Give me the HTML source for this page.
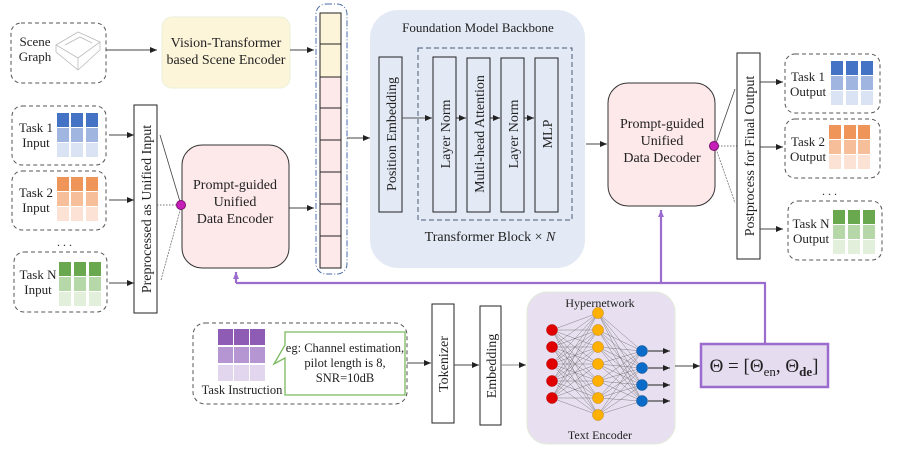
<!DOCTYPE html>
<html><head><meta charset="utf-8"><style>
body{margin:0;background:#fff}
svg{display:block;font-family:"Liberation Serif",serif;}
</style></head><body>
<svg width="897" height="449" viewBox="0 0 897 449" xmlns="http://www.w3.org/2000/svg">
<defs>
<marker id="a" markerWidth="8" markerHeight="8" refX="7" refY="4" orient="auto" markerUnits="userSpaceOnUse"><path d="M0,1 L7,4 L0,7 z" fill="#222"/></marker>
<marker id="p" markerWidth="8" markerHeight="8" refX="7" refY="4" orient="auto" markerUnits="userSpaceOnUse"><path d="M0,1 L7,4 L0,7 z" fill="#9a6ccd"/></marker>
</defs>
<g font-size="13" fill="#222">
<rect x="11" y="23" width="95" height="60" rx="10" fill="none" stroke="#555" stroke-dasharray="4,3"/>
<text x="35" y="46" text-anchor="middle">Scene</text><text x="35" y="61" text-anchor="middle">Graph</text>
<g stroke="#bbb" fill="none" stroke-width="0.8"><path d="M56,45 L78,32 L100,42 L78,58 Z"/><path d="M56,45 L56,52 L78,70 L100,50 L100,42"/><path d="M78,58 L78,70"/><path d="M65,45 L80,37 L92,43"/></g>
<line x1="106" y1="50" x2="157" y2="50" stroke="#444" marker-end="url(#a)"/>
<rect x="162" y="17" width="128" height="71" rx="10" fill="#fdf5da" stroke="#eaf0d8"/>
<text x="226" y="47" text-anchor="middle" font-size="14">Vision-Transformer</text>
<text x="226" y="64" text-anchor="middle" font-size="14">based Scene Encoder</text>
<line x1="290" y1="50" x2="314" y2="50" stroke="#444" marker-end="url(#a)"/>
<rect x="316" y="4" width="31" height="270" rx="10" fill="none" stroke="#4a6aa8" stroke-dasharray="6,2,1,2"/>
<rect x="320" y="13" width="21" height="64" fill="#fdf5da" stroke="#222"/>
<rect x="320" y="77" width="21" height="191" fill="#fde8ea" stroke="#222"/>
<g stroke="#222"><line x1="320" y1="44" x2="341" y2="44"/><line x1="320" y1="108" x2="341" y2="108"/><line x1="320" y1="140" x2="341" y2="140"/><line x1="320" y1="172" x2="341" y2="172"/><line x1="320" y1="204" x2="341" y2="204"/><line x1="320" y1="236" x2="341" y2="236"/></g>
<rect x="12" y="106" width="94" height="59" rx="10" fill="none" stroke="#555" stroke-dasharray="4,3"/>
<text x="36" y="132" text-anchor="middle">Task 1</text><text x="36" y="147" text-anchor="middle">Input</text>
<g><rect x="57" y="113" width="12" height="14" fill="#4472c4"/><rect x="71" y="113" width="12" height="14" fill="#4472c4"/><rect x="86" y="113" width="12" height="14" fill="#4472c4"/>
<rect x="57" y="128" width="12" height="14" fill="#a0b6e0"/><rect x="71" y="128" width="12" height="14" fill="#a0b6e0"/><rect x="86" y="128" width="12" height="14" fill="#a0b6e0"/>
<rect x="57" y="143" width="12" height="14" fill="#dae3f3"/><rect x="71" y="143" width="12" height="14" fill="#dae3f3"/><rect x="86" y="143" width="12" height="14" fill="#dae3f3"/></g>
<rect x="12" y="171" width="94" height="59" rx="10" fill="none" stroke="#555" stroke-dasharray="4,3"/>
<text x="36" y="197" text-anchor="middle">Task 2</text><text x="36" y="212" text-anchor="middle">Input</text>
<g><rect x="57" y="177" width="12" height="14" fill="#f0955a"/><rect x="71" y="177" width="12" height="14" fill="#f0955a"/><rect x="86" y="177" width="12" height="14" fill="#f0955a"/>
<rect x="57" y="192" width="12" height="14" fill="#f6bf9a"/><rect x="71" y="192" width="12" height="14" fill="#f6bf9a"/><rect x="86" y="192" width="12" height="14" fill="#f6bf9a"/>
<rect x="57" y="207" width="12" height="14" fill="#fbe2d4"/><rect x="71" y="207" width="12" height="14" fill="#fbe2d4"/><rect x="86" y="207" width="12" height="14" fill="#fbe2d4"/></g>
<text x="57" y="246" font-size="12">. . .</text>
<rect x="14" y="252" width="93" height="60" rx="10" fill="none" stroke="#555" stroke-dasharray="4,3"/>
<text x="38" y="279" text-anchor="middle">Task N</text><text x="38" y="294" text-anchor="middle">Input</text>
<g><rect x="59" y="262" width="12" height="14" fill="#6aa84f"/><rect x="74" y="262" width="12" height="14" fill="#6aa84f"/><rect x="89" y="262" width="12" height="14" fill="#6aa84f"/>
<rect x="59" y="277" width="12" height="14" fill="#b6d7a8"/><rect x="74" y="277" width="12" height="14" fill="#b6d7a8"/><rect x="89" y="277" width="12" height="14" fill="#b6d7a8"/>
<rect x="59" y="292" width="12" height="14" fill="#e2efda"/><rect x="74" y="292" width="12" height="14" fill="#e2efda"/><rect x="89" y="292" width="12" height="14" fill="#e2efda"/></g>
<line x1="109" y1="135" x2="134" y2="135" stroke="#444" marker-end="url(#a)"/>
<line x1="109" y1="200" x2="134" y2="200" stroke="#444" marker-end="url(#a)"/>
<line x1="109" y1="283" x2="134" y2="283" stroke="#444" marker-end="url(#a)"/>
<rect x="134" y="105" width="23" height="208" fill="#fff" stroke="#222"/>
<text transform="translate(151,209) rotate(-90)" text-anchor="middle" font-size="14">Preprocessed as Unified Input</text>
<line x1="160" y1="135" x2="181" y2="205" stroke="#444" stroke-width="0.8"/>
<line x1="157" y1="205" x2="181" y2="205" stroke="#777" stroke-dasharray="1.5,1.5"/>
<line x1="161" y1="280" x2="181" y2="207" stroke="#777" stroke-width="0.8" stroke-dasharray="2,1"/>
<rect x="182" y="145" width="107" height="123" rx="20" fill="#fde8ea" stroke="#333"/>
<circle cx="181" cy="205" r="4.5" fill="#c61fb8" stroke="#7a1070"/>
<text x="235" y="189" text-anchor="middle" font-size="14">Prompt-guided</text>
<text x="235" y="206" text-anchor="middle" font-size="14">Unified</text>
<text x="235" y="223" text-anchor="middle" font-size="14">Data Encoder</text>
<line x1="289" y1="208" x2="314" y2="208" stroke="#444" marker-end="url(#a)"/>
<line x1="347" y1="138" x2="370" y2="138" stroke="#444" marker-end="url(#a)"/>
<rect x="370" y="10" width="215" height="258" rx="28" fill="#e3eaf5"/>
<text x="478" y="32" text-anchor="middle">Foundation Model Backbone</text>
<rect x="418" y="48" width="154" height="172" fill="none" stroke="#4a5a78" stroke-dasharray="5,3"/>
<rect x="379" y="57" width="23" height="155" fill="none" stroke="#222"/>
<rect x="433" y="57" width="23" height="155" fill="none" stroke="#222"/>
<rect x="467" y="58" width="23" height="154" fill="none" stroke="#222"/>
<rect x="501" y="58" width="23" height="154" fill="none" stroke="#222"/>
<rect x="535" y="58" width="23" height="154" fill="none" stroke="#222"/>
<text transform="translate(396,134) rotate(-90)" text-anchor="middle" font-size="14">Position  Embedding</text>
<text transform="translate(450,134) rotate(-90)" text-anchor="middle" font-size="14">Layer Norm</text>
<text transform="translate(484,134) rotate(-90)" text-anchor="middle" font-size="14">Multi-head Attention</text>
<text transform="translate(518,134) rotate(-90)" text-anchor="middle" font-size="14">Layer Norm</text>
<text transform="translate(552,134) rotate(-90)" text-anchor="middle" font-size="14">MLP</text>
<line x1="402" y1="118" x2="432" y2="118" stroke="#555" marker-end="url(#a)"/>
<line x1="456" y1="118" x2="466" y2="118" stroke="#222" marker-end="url(#a)"/>
<line x1="490" y1="118" x2="500" y2="118" stroke="#222" marker-end="url(#a)"/>
<line x1="524" y1="118" x2="534" y2="118" stroke="#222" marker-end="url(#a)"/>
<text x="490" y="241" text-anchor="middle" font-size="14">Transformer Block × <tspan font-style="italic">N</tspan></text>
<line x1="586" y1="144" x2="607" y2="144" stroke="#444" marker-end="url(#a)"/>
<rect x="608" y="83" width="107" height="123" rx="20" fill="#fde8ea" stroke="#333"/>
<text x="662" y="128" text-anchor="middle" font-size="14">Prompt-guided</text>
<text x="662" y="145" text-anchor="middle" font-size="14">Unified</text>
<text x="662" y="162" text-anchor="middle" font-size="14">Data Decoder</text>
<line x1="715" y1="146" x2="735" y2="89" stroke="#444" stroke-width="0.8"/>
<line x1="715" y1="146" x2="737" y2="146" stroke="#777" stroke-dasharray="1.5,1.5"/>
<line x1="715" y1="146" x2="735" y2="203" stroke="#777" stroke-width="0.8" stroke-dasharray="2,1"/>
<circle cx="714" cy="146" r="4.5" fill="#c61fb8" stroke="#7a1070"/>
<rect x="737" y="53" width="23" height="206" fill="#fff" stroke="#222"/>
<text transform="translate(754,156) rotate(-90)" text-anchor="middle" font-size="14">Postprocess for Final Output</text>
<line x1="760" y1="82" x2="783" y2="82" stroke="#444" marker-end="url(#a)"/>
<line x1="760" y1="147" x2="783" y2="147" stroke="#444" marker-end="url(#a)"/>
<line x1="760" y1="229" x2="783" y2="229" stroke="#444" marker-end="url(#a)"/>
<rect x="785" y="54" width="95" height="59" rx="10" fill="none" stroke="#555" stroke-dasharray="4,3"/>
<text x="808" y="81" text-anchor="middle">Task 1</text><text x="808" y="96" text-anchor="middle">Output</text>
<g><rect x="831" y="61" width="12" height="14" fill="#4472c4"/><rect x="846" y="61" width="12" height="14" fill="#4472c4"/><rect x="861" y="61" width="12" height="14" fill="#4472c4"/>
<rect x="831" y="76" width="12" height="14" fill="#a0b6e0"/><rect x="846" y="76" width="12" height="14" fill="#a0b6e0"/><rect x="861" y="76" width="12" height="14" fill="#a0b6e0"/>
<rect x="831" y="91" width="12" height="14" fill="#dae3f3"/><rect x="846" y="91" width="12" height="14" fill="#dae3f3"/><rect x="861" y="91" width="12" height="14" fill="#dae3f3"/></g>
<rect x="785" y="119" width="95" height="59" rx="10" fill="none" stroke="#555" stroke-dasharray="4,3"/>
<text x="808" y="146" text-anchor="middle">Task 2</text><text x="808" y="161" text-anchor="middle">Output</text>
<g><rect x="829" y="125" width="12" height="14" fill="#f0955a"/><rect x="844" y="125" width="12" height="14" fill="#f0955a"/><rect x="858" y="125" width="12" height="14" fill="#f0955a"/>
<rect x="829" y="140" width="12" height="14" fill="#f6bf9a"/><rect x="844" y="140" width="12" height="14" fill="#f6bf9a"/><rect x="858" y="140" width="12" height="14" fill="#f6bf9a"/>
<rect x="829" y="155" width="12" height="14" fill="#fbe2d4"/><rect x="844" y="155" width="12" height="14" fill="#fbe2d4"/><rect x="858" y="155" width="12" height="14" fill="#fbe2d4"/></g>
<text x="822" y="195" font-size="12">. . .</text>
<rect x="788" y="201" width="94" height="59" rx="10" fill="none" stroke="#555" stroke-dasharray="4,3"/>
<text x="811" y="228" text-anchor="middle">Task N</text><text x="811" y="243" text-anchor="middle">Output</text>
<g><rect x="833" y="210" width="12" height="14" fill="#6aa84f"/><rect x="848" y="210" width="12" height="14" fill="#6aa84f"/><rect x="863" y="210" width="12" height="14" fill="#6aa84f"/>
<rect x="833" y="225" width="12" height="14" fill="#b6d7a8"/><rect x="848" y="225" width="12" height="14" fill="#b6d7a8"/><rect x="863" y="225" width="12" height="14" fill="#b6d7a8"/>
<rect x="833" y="240" width="12" height="14" fill="#e2efda"/><rect x="848" y="240" width="12" height="14" fill="#e2efda"/><rect x="863" y="240" width="12" height="14" fill="#e2efda"/></g>
<g stroke="#9a6ccd" stroke-width="2.2" fill="none">
<polyline points="236,283 765,283 765,343"/>
<line x1="236" y1="283" x2="236" y2="272" marker-end="url(#p)"/>
<line x1="661" y1="283" x2="661" y2="210" marker-end="url(#p)"/>
</g>
<rect x="193" y="323" width="214" height="81" rx="12" fill="none" stroke="#555" stroke-dasharray="4,3"/>
<g><rect x="218" y="329" width="15" height="16" fill="#8e5bb5"/><rect x="234" y="329" width="15" height="16" fill="#8e5bb5"/><rect x="250" y="329" width="15" height="16" fill="#8e5bb5"/>
<rect x="218" y="347" width="15" height="16" fill="#b596d2"/><rect x="234" y="347" width="15" height="16" fill="#b596d2"/><rect x="250" y="347" width="15" height="16" fill="#b596d2"/>
<rect x="218" y="365" width="15" height="16" fill="#e2d6ee"/><rect x="234" y="365" width="15" height="16" fill="#e2d6ee"/><rect x="250" y="365" width="15" height="16" fill="#e2d6ee"/></g>
<text x="242" y="394" text-anchor="middle" font-size="12.5">Task Instruction</text>
<path d="M285,332 L405,332 L405,395 L285,395 L285,358 L274,364 L285,345 Z" fill="#fff" stroke="#7cba5e" stroke-width="1.3"/>
<text x="345" y="352" text-anchor="middle" font-size="12.5">eg: Channel estimation,</text>
<text x="345" y="367" text-anchor="middle" font-size="12.5">pilot length is 8,</text>
<text x="345" y="382" text-anchor="middle" font-size="12.5">SNR=10dB</text>
<line x1="407" y1="363" x2="431" y2="363" stroke="#444" marker-end="url(#a)"/>
<rect x="432" y="304" width="22" height="119" fill="#fff" stroke="#222"/>
<text transform="translate(448,364) rotate(-90)" text-anchor="middle" font-size="14">Tokenizer</text>
<line x1="454" y1="365" x2="479" y2="365" stroke="#444" marker-end="url(#a)"/>
<rect x="480" y="306" width="21" height="119" fill="#fff" stroke="#222"/>
<text transform="translate(496,366) rotate(-90)" text-anchor="middle" font-size="14">Embedding</text>
<line x1="501" y1="365" x2="526" y2="365" stroke="#888" marker-end="url(#a)"/>
<rect x="527" y="292" width="148" height="152" rx="20" fill="#e8e0f0" stroke="#e0ead8"/>
<text x="600" y="307" text-anchor="middle" font-size="12">Hypernetwork</text>
<text x="600" y="439" text-anchor="middle" font-size="12">Text Encoder</text>
<g stroke="#666" stroke-width="0.4">
<path d="M552,330L598,313M552,330L598,330M552,330L598,347M552,330L598,364M552,330L598,381M552,330L598,398M552,330L598,415
M552,347L598,313M552,347L598,330M552,347L598,347M552,347L598,364M552,347L598,381M552,347L598,398M552,347L598,415
M552,364L598,313M552,364L598,330M552,364L598,347M552,364L598,364M552,364L598,381M552,364L598,398M552,364L598,415
M552,381L598,313M552,381L598,330M552,381L598,347M552,381L598,364M552,381L598,381M552,381L598,398M552,381L598,415
M552,398L598,313M552,398L598,330M552,398L598,347M552,398L598,364M552,398L598,381M552,398L598,398M552,398L598,415
M598,313L642,351M598,313L642,368M598,313L642,385M598,313L642,401
M598,330L642,351M598,330L642,368M598,330L642,385M598,330L642,401
M598,347L642,351M598,347L642,368M598,347L642,385M598,347L642,401
M598,364L642,351M598,364L642,368M598,364L642,385M598,364L642,401
M598,381L642,351M598,381L642,368M598,381L642,385M598,381L642,401
M598,398L642,351M598,398L642,368M598,398L642,385M598,398L642,401
M598,415L642,351M598,415L642,368M598,415L642,385M598,415L642,401"/>
</g>
<g fill="#e00000" stroke="#a00" stroke-width="0.5"><circle cx="552" cy="330" r="5.5"/><circle cx="552" cy="347" r="5.5"/><circle cx="552" cy="364" r="5.5"/><circle cx="552" cy="381" r="5.5"/><circle cx="552" cy="398" r="5.5"/></g>
<g fill="#ffb000" stroke="#c08000" stroke-width="0.5"><circle cx="598" cy="313" r="5.5"/><circle cx="598" cy="330" r="5.5"/><circle cx="598" cy="347" r="5.5"/><circle cx="598" cy="364" r="5.5"/><circle cx="598" cy="381" r="5.5"/><circle cx="598" cy="398" r="5.5"/><circle cx="598" cy="415" r="5.5"/></g>
<g fill="#0a6cc8" stroke="#064a8a" stroke-width="0.5"><circle cx="642" cy="351" r="5.5"/><circle cx="642" cy="368" r="5.5"/><circle cx="642" cy="385" r="5.5"/><circle cx="642" cy="401" r="5.5"/></g>
<g stroke="#222"><line x1="648" y1="351" x2="670" y2="351" marker-end="url(#a)"/><line x1="648" y1="368" x2="670" y2="368" marker-end="url(#a)"/><line x1="648" y1="385" x2="670" y2="385" marker-end="url(#a)"/><line x1="648" y1="401" x2="670" y2="401" marker-end="url(#a)"/></g>
<line x1="675" y1="366" x2="700" y2="366" stroke="#444" marker-end="url(#a)"/>
<rect x="701" y="344" width="127" height="43" fill="#e5dcf0" stroke="#9a6ccd" stroke-width="2.5"/>
<text x="764" y="372" text-anchor="middle" font-family="Liberation Serif, serif" font-size="19">Θ = [Θ<tspan font-size="13" dy="4">en</tspan><tspan dy="-4">, Θ</tspan><tspan font-size="13" dy="4" font-weight="bold">de</tspan><tspan dy="-4">]</tspan></text>
</g>
</svg>
</body></html>
